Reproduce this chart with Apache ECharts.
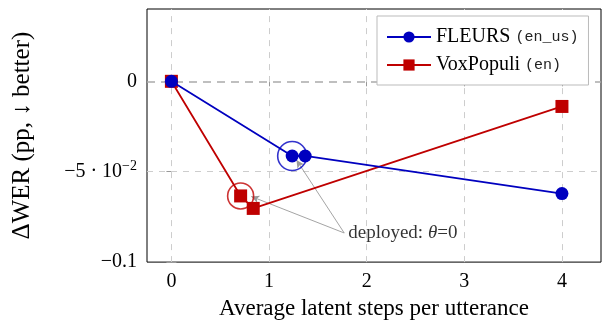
<!DOCTYPE html>
<html><head><meta charset="utf-8">
<script src="https://cdn.jsdelivr.net/npm/echarts@6/dist/echarts.min.js"></script>
<style>html,body{margin:0;padding:0;background:#fff}#c{width:602px;height:325px}</style>
</head><body><div id="c"></div>
<script>
// ---- data ----
const xTicks = [0, 1, 2, 3, 4];
const yTicks = [-0.1, -0.05, 0];
const fleursName = 'FLEURS (en_us)';
const fleursX = [0, 1.237, 1.37, 4];
const fleursY = [0, -0.0413, -0.0413, -0.0621];
const voxName = 'VoxPopuli (en)';
const voxX = [0, 0.709, 0.838, 4];
const voxY = [0, -0.0634, -0.0703, -0.0139];
const fleursDeployed = 1;   // index of deployed point
const voxDeployed = 1;
const annotationText = 'deployed: {i|θ}=0';
const annotationAnchor = [1.77, -0.0839];
const arrowTargets = [[1.281, -0.0435], [0.818, -0.0637]];

const serif = '"Liberation Serif", "Times New Roman", serif';
const mono = '"Liberation Mono", "DejaVu Sans Mono", monospace';
const blue = '#0000bf', red = '#bf0000';

const zip = (xs, ys) => xs.map((x, i) => [x, ys[i]]);

function yLabel(v) {
  if (Math.abs(v) < 1e-9) return '0';
  if (Math.abs(v + 0.05) < 1e-9) return '−5 · 10{sup|−2}';
  if (Math.abs(v + 0.1) < 1e-9) return '−0.1';
  return '';
}

const tickStyle = { color: '#999', width: 1 };
const chart = echarts.init(document.getElementById('c'));
chart.setOption({
  animation: false,
  grid: { left: 147, right: 1, top: 9, bottom: 58, show: true, borderColor: '#000', borderWidth: 1, backgroundColor: 'transparent' },
  legend: {
    data: [fleursName, voxName],
    orient: 'vertical', left: 377, top: 16,
    padding: [11, 10, 10, 9], itemGap: 8, itemWidth: 44, itemHeight: 14,
    backgroundColor: '#fff', borderColor: '#bbb', borderWidth: 1,
    formatter: n => n.replace(/\((.*)\)/, '{m|($1)}'),
    textStyle: { fontFamily: serif, fontSize: 20, color: '#000',
      rich: { m: { fontFamily: mono, fontSize: 15, color: '#222' } } }
  },
  xAxis: [{
    type: 'value', min: -0.25, max: 4.4,
    name: 'Average latent steps per utterance', nameLocation: 'middle', nameGap: 33,
    nameTextStyle: { fontFamily: serif, fontSize: 23, color: '#000', verticalAlign: 'top' },
    axisLine: { show: false },
    axisTick: { show: true, inside: true, length: 5, customValues: xTicks, lineStyle: tickStyle },
    axisLabel: { customValues: xTicks, fontFamily: serif, fontSize: 20, color: '#000', margin: 10 },
    splitLine: { show: false }
  }, {
    type: 'value', min: -0.25, max: 4.4, position: 'top',
    axisLine: { show: false },
    axisTick: { show: true, inside: true, length: 5, customValues: xTicks, lineStyle: tickStyle },
    axisLabel: { show: false }, splitLine: { show: false }
  }],
  yAxis: [{
    type: 'value', min: -0.1, max: 0.04,
    name: 'ΔWER (pp, ↓ better)', nameLocation: 'middle', nameGap: 112, nameRotate: 90,
    nameTextStyle: { fontFamily: serif, fontSize: 25, color: '#000' },
    axisLine: { show: false },
    axisTick: { show: true, inside: true, length: 5, customValues: yTicks, lineStyle: tickStyle },
    axisLabel: { customValues: yTicks, formatter: yLabel, fontFamily: serif, fontSize: 20, color: '#000', margin: 10,
      rich: { sup: { fontFamily: serif, fontSize: 14, verticalAlign: 'bottom', padding: [0, 0, 10, 0], color: '#000' } } },
    splitLine: { show: false }
  }, {
    type: 'value', min: -0.1, max: 0.04, position: 'right',
    axisLine: { show: false },
    axisTick: { show: true, inside: true, length: 5, customValues: yTicks, lineStyle: tickStyle },
    axisLabel: { show: false }, splitLine: { show: false }
  }],
  series: [
    {
      name: 'grid', type: 'line', data: [], silent: true, z: 1,
      markLine: {
        silent: true, z: 1, symbol: ['none', 'none'], label: { show: false },
        data: [
          ...xTicks.map(v => ({ xAxis: v, lineStyle: { color: '#cdcdcd', type: [6, 6], width: 1 } })),
          ...yTicks.filter(v => v !== 0 && v !== -0.1).map(v => ({ yAxis: v, lineStyle: { color: '#cdcdcd', type: [6, 6], width: 1 } })),
          { yAxis: 0, lineStyle: { color: '#aaa', type: [8, 6], width: 1.6 } }
        ]
      }
    },
    {
      name: 'annot', type: 'scatter', z: 2, silent: true,
      data: [annotationAnchor], symbolSize: 0,
      label: { show: true, position: 'right', distance: 4, formatter: () => annotationText,
        fontFamily: serif, fontSize: 19, color: '#000',
        rich: { i: { fontFamily: serif, fontStyle: 'italic', fontSize: 19, color: '#000' } } },
      markLine: {
        silent: true, z: 2, symbol: ['none', 'arrow'], symbolSize: [6, 8], label: { show: false },
        lineStyle: { color: '#9a9a9a', width: 0.9, type: 'solid' },
        data: arrowTargets.map(t => [{ coord: annotationAnchor }, { coord: t }])
      }
    },
    {
      name: 'highlight', type: 'scatter', z: 3, silent: true,
      data: [
        { value: [fleursX[fleursDeployed], fleursY[fleursDeployed]], symbolSize: 29, itemStyle: { color: 'none', borderColor: blue, borderWidth: 1.6 } },
        { value: [voxX[voxDeployed], voxY[voxDeployed]], symbolSize: 26, itemStyle: { color: 'none', borderColor: red, borderWidth: 1.6 } }
      ],
      symbol: 'circle'
    },
    {
      name: voxName, type: 'line', data: zip(voxX, voxY), z: 4,
      symbol: 'rect', symbolSize: 13,
      itemStyle: { color: red }, lineStyle: { color: red, width: 1.8 }
    },
    {
      name: fleursName, type: 'line', data: zip(fleursX, fleursY), z: 5,
      symbol: 'circle', symbolSize: 13,
      itemStyle: { color: blue }, lineStyle: { color: blue, width: 1.8 }
    }
  ]
});
</script></body></html>
